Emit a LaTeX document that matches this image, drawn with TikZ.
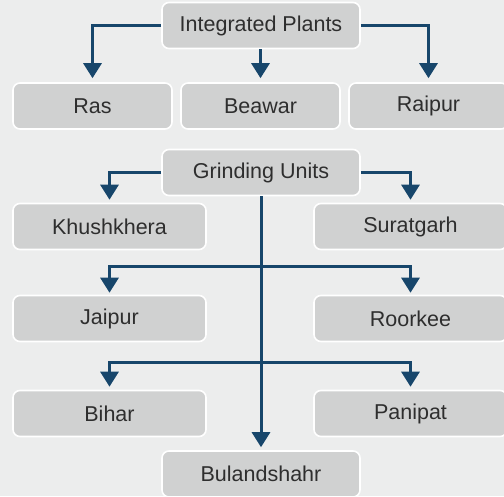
\documentclass[tikz,border=0pt]{standalone}
\usepackage{fontspec}
\setmainfont{Liberation Sans}
\usetikzlibrary{arrows.meta}
\definecolor{bgc}{HTML}{ECEDED}
\definecolor{boxc}{HTML}{D0D1D1}
\definecolor{txtc}{HTML}{2E2E2E}
\definecolor{arrc}{HTML}{17466B}
\tikzset{
  box/.style={draw=white, line width=1.6pt, fill=boxc, rounded corners=7pt,
    inner sep=0pt, text=txtc, font=\fontsize{21.5}{25}\selectfont,
    minimum height=#1},
  box/.default=46pt,
  conn/.style={draw=arrc, line width=3pt,
    -{Triangle[width=18pt,length=15pt]}, shorten >=4pt},
  plain/.style={draw=arrc, line width=3pt}
}
\begin{document}
\begin{tikzpicture}[x=1pt,y=-1pt]
\fill[bgc] (0,0) rectangle (504,496);
\useasboundingbox (0,0) rectangle (504,496);
\clip (0,0) rectangle (504,496);
% top group
\node[box, minimum width=198pt] (ip) at (261,25.5) {Integrated Plants};
\node[box, minimum width=159pt] (ras) at (92.5,106) {Ras};
\node[box, minimum width=159pt] (bea) at (260.5,106) {Beawar};
\node[box, minimum width=159pt] (rai) at (428.5,106) {Raipur};
% grinding group
\node[box, minimum width=198pt] (gu) at (261,172.5) {Grinding Units};
\node[box, minimum width=193pt] (kh) at (109.5,226.5) {Khushkhera};
\node[box, minimum width=193pt] (su) at (410.5,226.5) {Suratgarh};
\node[box, minimum width=193pt] (ja) at (109.5,318.5) {Jaipur};
\node[box, minimum width=193pt] (ro) at (410.5,318.5) {Roorkee};
\node[box, minimum width=193pt] (bi) at (109.5,413.5) {Bihar};
\node[box, minimum width=193pt] (pa) at (410.5,413.5) {Panipat};
\node[box, minimum width=198pt] (bu) at (261,474) {Bulandshahr};
% connectors top
\draw[conn] (ip.west) -| (ras.north);
\draw[conn] (ip.south -| bea.north) -- (bea.north);
\draw[conn] (ip.east) -| (rai.north);
% connectors grinding
\draw[conn, shorten >=3pt] (gu.west) -| (kh.north);
\draw[conn, shorten >=3pt] (gu.east) -| (su.north);
\draw[conn, shorten >=3pt] (gu.south) -- (bu.north);
\coordinate (b1) at (261,266);
\coordinate (b2) at (261,362);
\draw[conn, shorten >=2pt] (b1) -| (ja.north);
\draw[conn, shorten >=2pt] (b1) -| (ro.north);
\draw[conn, shorten >=3pt] (b2) -| (bi.north);
\draw[conn, shorten >=3pt] (b2) -| (pa.north);
\end{tikzpicture}
\end{document}
